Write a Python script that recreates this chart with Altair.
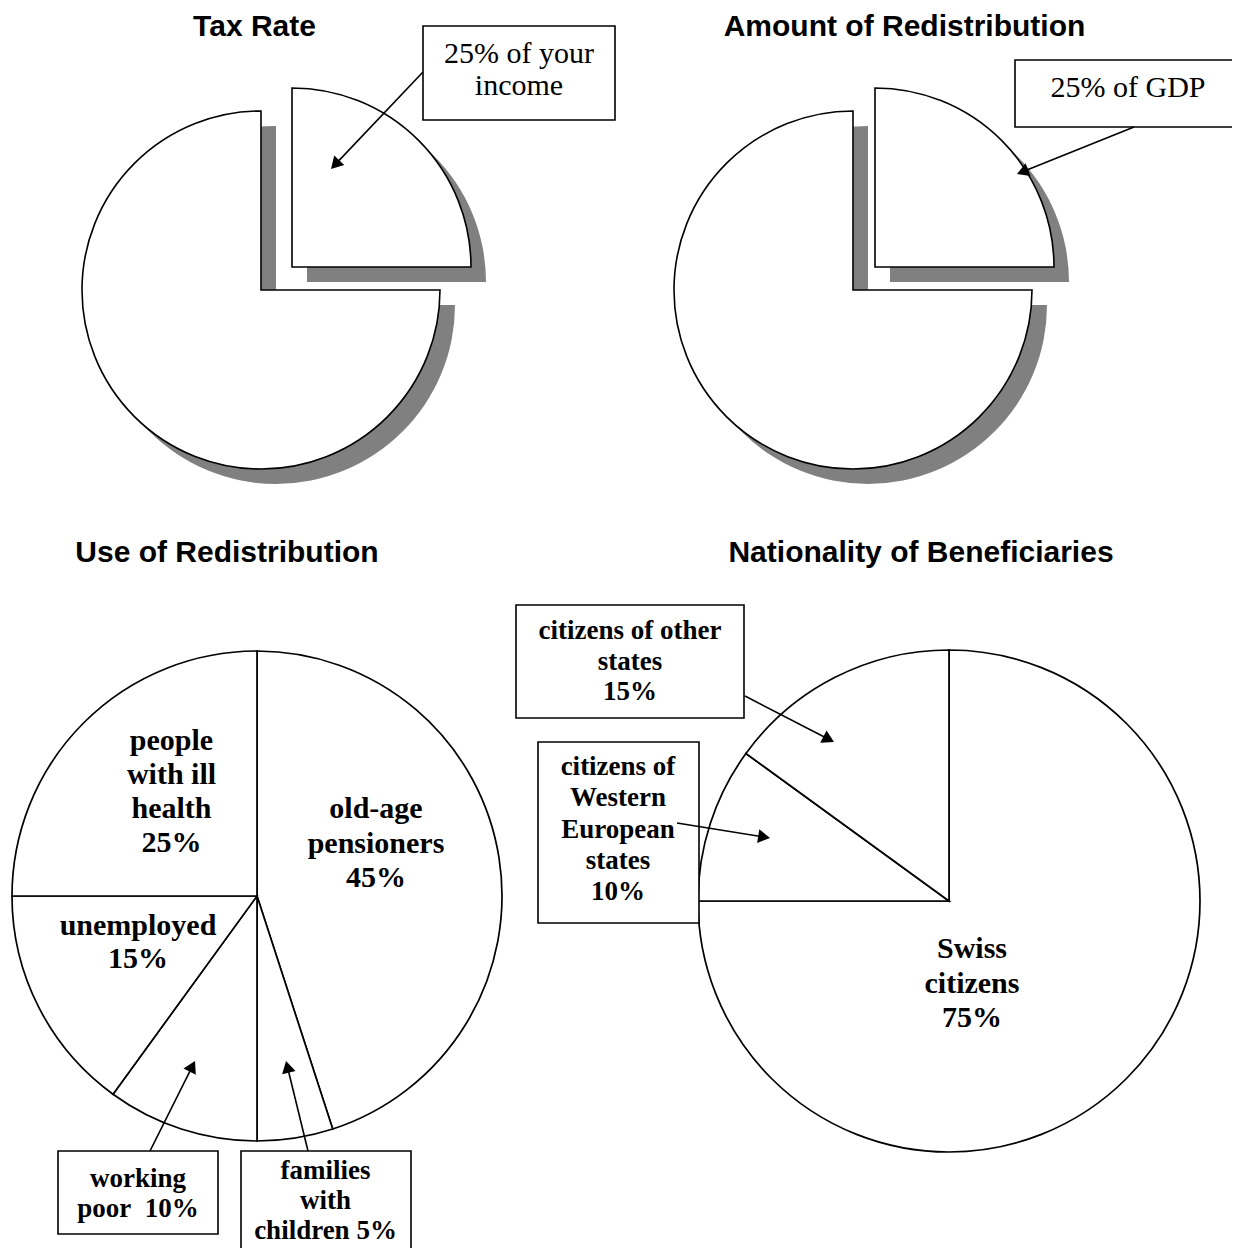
import math
import altair as alt
import numpy as np
import pandas as pd

# ---------------- data ----------------
titles = ["Tax Rate", "Amount of Redistribution", "Use of Redistribution", "Nationality of Beneficiaries"]

tax_slices = ["tax", "rest"]
tax_values = [25, 75]
tax_label = ["25% of your", "income"]

gdp_slices = ["redistributed", "rest"]
gdp_values = [25, 75]
gdp_label = ["25% of GDP"]

use_slices = ["old-age pensioners", "families with children", "working poor", "unemployed", "people with ill health"]
use_values = [45, 5, 10, 15, 25]
use_labels = [
    ["old-age", "pensioners", "45%"],
    ["families", "with", "children 5%"],
    ["working", "poor\u00a0 10%"],
    ["unemployed", "15%"],
    ["people", "with ill", "health", "25%"],
]

nat_slices = ["Swiss citizens", "citizens of Western European states", "citizens of other states"]
nat_values = [75, 10, 15]
nat_labels = [
    ["Swiss", "citizens", "75%"],
    ["citizens of", "Western", "European", "states", "10%"],
    ["citizens of other", "states", "15%"],
]

# ---------------- helpers ----------------
OFF = 8  # page margin


def px(v):
    return v - OFF


THETA = alt.Scale(domain=[0, 100], range=[0, 2 * math.pi])
ONE = pd.DataFrame({"k": [0]})
SERIF = "Liberation Serif"
SANS = "Liberation Sans"


def pie_df(names, values):
    v = np.array(values, dtype=float)
    end = np.cumsum(v)
    return pd.DataFrame({"slice": names, "value": v, "start": end - v, "end": end})


def arcs(df, cx, cy, r, names=None, shadow=False, sw=1.6):
    ch = alt.Chart(df)
    if names is not None:
        ch = ch.transform_filter(alt.FieldOneOfPredicate(field="slice", oneOf=names))
    if shadow:
        mk = ch.mark_arc(radius=r, fill="#808080", strokeWidth=0)
    else:
        mk = ch.mark_arc(radius=r, fill="white", stroke="black", strokeWidth=sw, strokeJoin="miter")
    return mk.encode(
        theta=alt.Theta("start:Q", scale=THETA),
        theta2="end:Q",
        x=alt.value(px(cx)),
        y=alt.value(px(cy)),
    )


def box(x1, y1, x2, y2):
    return alt.Chart(ONE).mark_rect(fill="white", stroke="black", strokeWidth=1.6).encode(
        x=alt.value(px(x1)), x2=alt.value(px(x2)), y=alt.value(px(y1)), y2=alt.value(px(y2))
    )


def arrow(x1, y1, x2, y2, size=190):
    dx, dy = x2 - x1, y2 - y1
    L = math.hypot(dx, dy)
    ux, uy = dx / L, dy / L
    ang = math.degrees(math.atan2(dx, -dy)) % 360
    h = math.sqrt(size) / 2 * math.sqrt(3) / 2
    hx, hy = x2 - ux * h, y2 - uy * h
    line = alt.Chart(ONE).mark_rule(stroke="black", strokeWidth=1.6).encode(
        x=alt.value(px(x1)), y=alt.value(px(y1)), x2=alt.value(px(hx)), y2=alt.value(px(hy))
    )
    head = alt.Chart(ONE).mark_point(
        shape="triangle-up", size=size, filled=True, fill="black", opacity=1, strokeWidth=0, angle=ang
    ).encode(x=alt.value(px(hx)), y=alt.value(px(hy)))
    return [line, head]


def text(lines, x, y, size, weight="bold", lh=34, font=SERIF):
    return alt.Chart(ONE).mark_text(
        font=font, fontSize=size, fontWeight=weight, align="center", baseline="alphabetic",
        lineHeight=lh, color="black",
    ).encode(x=alt.value(px(x)), y=alt.value(px(y)), text=alt.value(lines))


layers = []

# ---------------- top-left: Tax Rate ----------------
tax = pie_df(tax_slices, tax_values)
T_MAIN, T_SLICE, R_TOP, SH = (261, 290), (292, 267), 179, 15
layers += [
    arcs(tax, T_MAIN[0] + SH, T_MAIN[1] + SH, R_TOP, names=["rest"], shadow=True),
    arcs(tax, T_SLICE[0] + SH, T_SLICE[1] + SH, R_TOP, names=["tax"], shadow=True),
    arcs(tax, T_MAIN[0], T_MAIN[1], R_TOP, names=["rest"]),
    arcs(tax, T_SLICE[0], T_SLICE[1], R_TOP, names=["tax"]),
]

# ---------------- top-right: Amount of Redistribution ----------------
gdp = pie_df(gdp_slices, gdp_values)
A_MAIN, A_SLICE = (853, 290), (875, 267)
layers += [
    arcs(gdp, A_MAIN[0] + SH, A_MAIN[1] + SH, R_TOP, names=["rest"], shadow=True),
    arcs(gdp, A_SLICE[0] + SH, A_SLICE[1] + SH, R_TOP, names=["redistributed"], shadow=True),
    arcs(gdp, A_MAIN[0], A_MAIN[1], R_TOP, names=["rest"]),
    arcs(gdp, A_SLICE[0], A_SLICE[1], R_TOP, names=["redistributed"]),
]

# ---------------- bottom-left: Use of Redistribution ----------------
use = pie_df(use_slices, use_values)
layers.append(arcs(use, 257, 896, 245, sw=1.7))

# ---------------- bottom-right: Nationality ----------------
nat = pie_df(nat_slices, nat_values)
layers.append(arcs(nat, 949, 901, 251, sw=1.7))

# ---------------- callout boxes ----------------
layers += [
    box(423, 26, 615, 120),
    box(1015, 60, 1260, 127),
    box(58, 1151, 218, 1234),
    box(241, 1151, 411, 1275),
    box(516, 605, 744, 718),
    box(538, 742, 699, 923),
]

# ---------------- arrows ----------------
layers += arrow(423, 72, 331, 169)
layers += arrow(1134, 127, 1017, 174)
layers += arrow(150, 1151, 195, 1061)
layers += arrow(308, 1151, 286, 1061)
layers += arrow(745, 696, 834, 742)
layers += arrow(677, 823, 770, 838)

# ---------------- titles ----------------
layers += [
    text([titles[0]], 254.5, 36, 30, font=SANS),
    text([titles[1]], 904.5, 36, 30, font=SANS),
    text([titles[2]], 227, 562, 30, font=SANS),
    text([titles[3]], 921, 562, 30, font=SANS),
]

# ---------------- labels ----------------
layers += [
    text(tax_label, 519, 63, 30, weight="normal", lh=32),
    text(gdp_label, 1128, 97, 30, weight="normal", lh=32),
    text(use_labels[0], 376, 818, 30, lh=34.5),
    text(use_labels[4], 171.5, 750, 30, lh=34),
    text(use_labels[3], 138, 935, 30, lh=33),
    text(use_labels[2], 138, 1187, 27, lh=30),
    text(use_labels[1], 325.5, 1179, 27, lh=30),
    text(nat_labels[0], 972, 958, 30, lh=34.5),
    text(nat_labels[2], 630, 639, 27, lh=30.5),
    text(nat_labels[1], 618, 775, 27, lh=31.25),
]

chart = alt.layer(*layers).properties(
    width=1224, height=1240, autosize=alt.AutoSizeParams(type="none"), padding=0, background="white"
).configure_view(stroke=None)

chart.save("out.html", embed_options={"renderer": "svg", "actions": False})
